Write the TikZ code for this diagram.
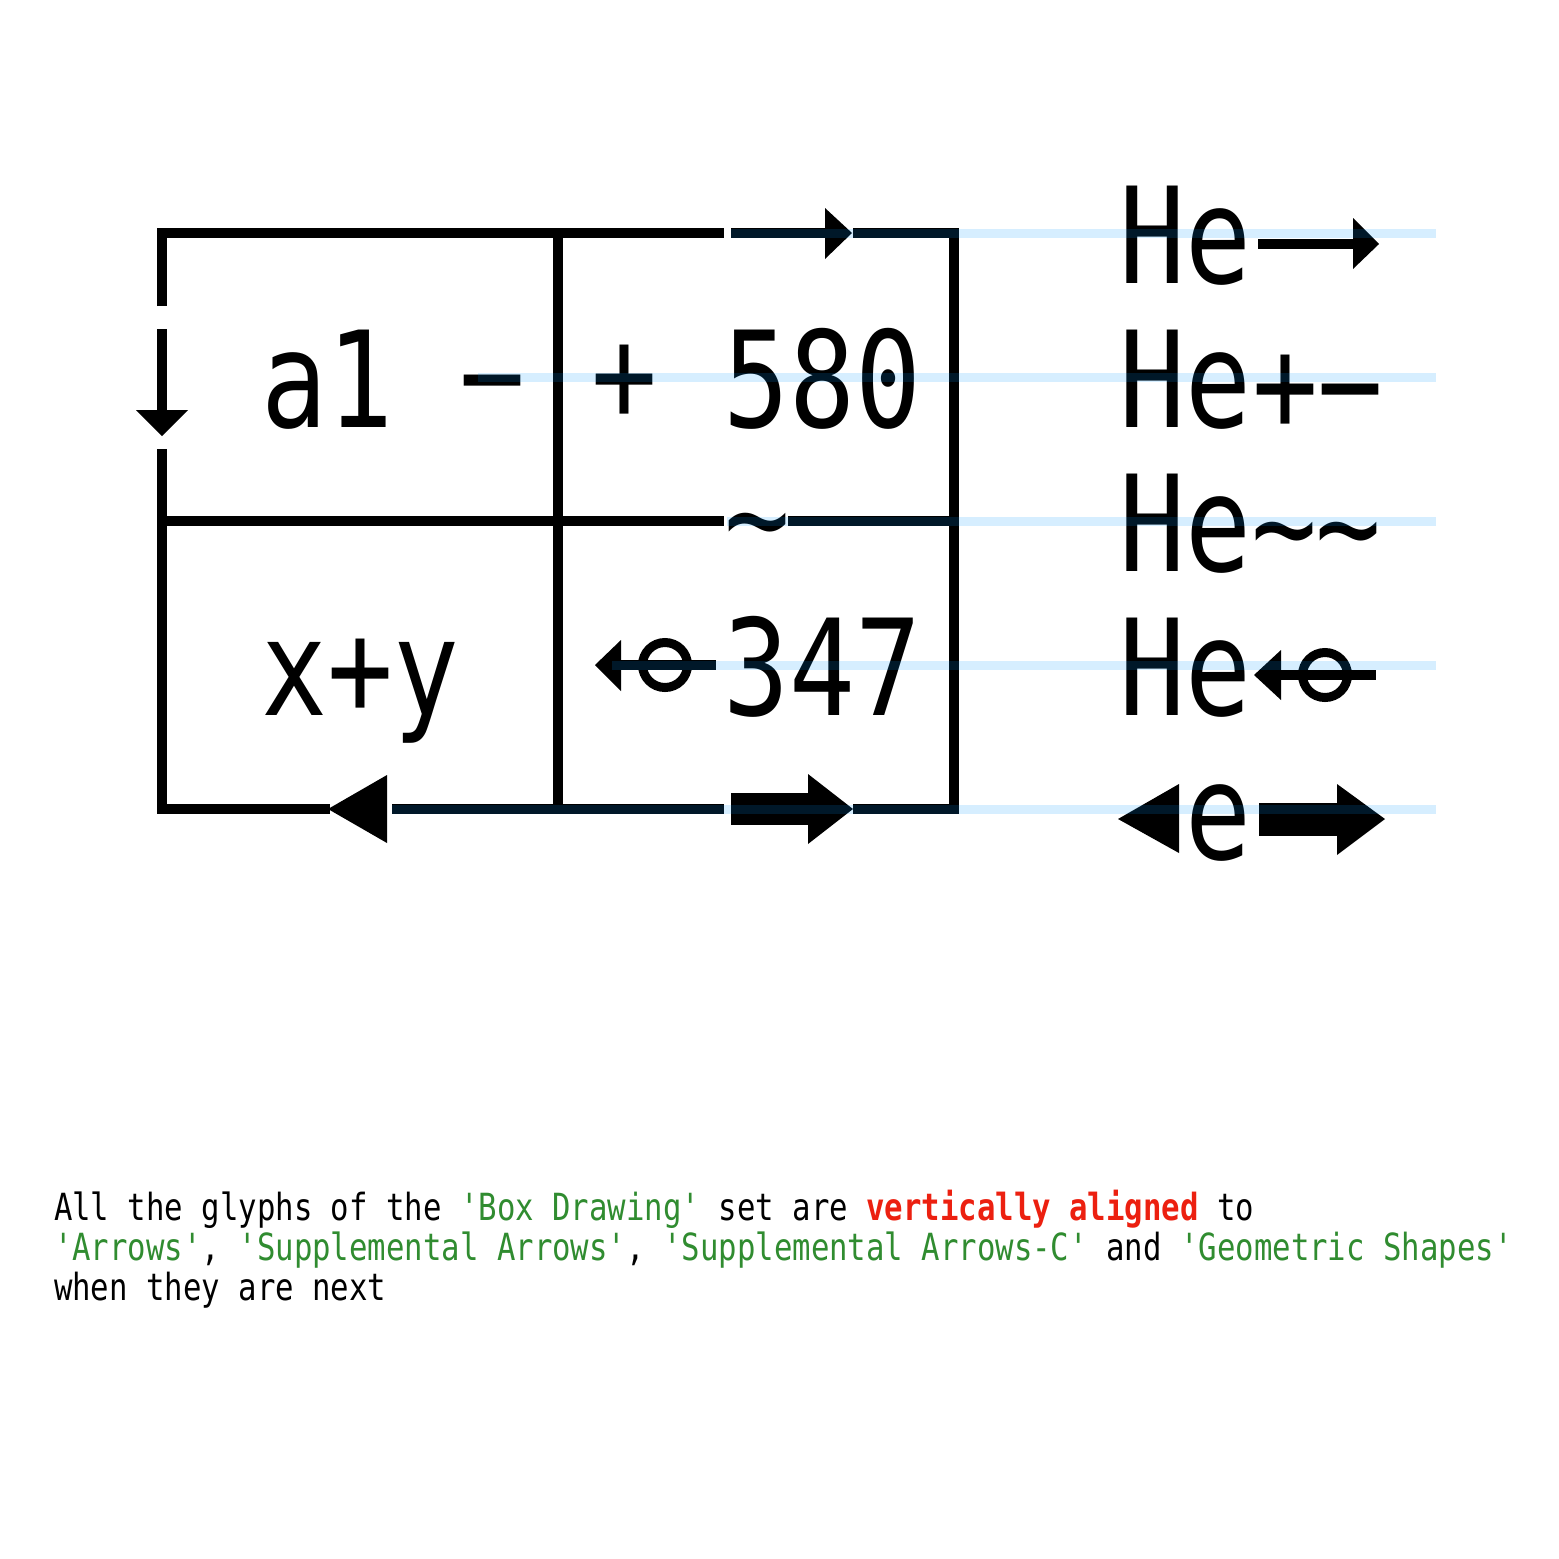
\documentclass[tikz,border=0pt]{standalone}
\usepackage{fontspec}
\newfontfamily\mono[FakeStretch=0.82,Ligatures=TeXOff]{DejaVu Sans Mono}
\definecolor{tgreen}{RGB}{48,140,48}
\definecolor{tred}{RGB}{236,32,16}
\definecolor{guideblue}{RGB}{0,150,255}
\begin{document}
\begin{tikzpicture}[x=1pt,y=-1pt,
  boxline/.style={line width=10pt, line join=miter},
  glyph/.style={inner sep=0pt, outer sep=0pt, font=\fontsize{133.7}{140}\selectfont\mono},
  sym/.style={glyph, anchor=base},
  guideline/.style={draw=guideblue, line width=9pt, opacity=0.16},
  note/.style={inner sep=0pt, outer sep=0pt, anchor=base west, font=\fontsize{37.4}{40}\selectfont\mono}
]
\useasboundingbox[fill=white] (0,0) rectangle (1559,1559);

% ---- box frame ----
\draw[boxline] (162,306) -- (162,233) -- (724,233);
\draw[boxline] (162,449) -- (162,809) -- (330,809);
\draw[boxline] (392,809) -- (724,809);
\draw[boxline] (853,233) -- (954,233) -- (954,809) -- (853,809);
\draw[boxline] (558,233) -- (558,809);
\draw[boxline] (162,521) -- (724,521);
\draw[boxline] (788,521) -- (954,521);

% down arrow on left side
\fill (157,329) rectangle (167,412);
\fill (136,410) -- (188,410) -- (162,436) -- cycle;
% top arrow
\fill (731,228) rectangle (827,238);
\fill (825,208) -- (852,233) -- (825,259) -- cycle;
% arrow with circle in box
\fill (621,640) -- (595,665) -- (621,691) -- cycle;
\fill (612,660) rectangle (716,670);
\draw[line width=9pt] (665,665) circle[radius=22.5pt];
% bottom left triangle
\fill (387,775) -- (328,809) -- (387,843) -- cycle;
% bottom heavy arrow
\fill (731,793) rectangle (810,825);
\fill (808,774) -- (853,809) -- (808,844) -- cycle;

% ---- texts in the box ----
\node[glyph, anchor=base west] (a1) at (261,427) {a1};
\node[sym] (minusA) at (492,422) {−};
\node[sym] (plusA) at (624,421) {+};
\node[glyph, anchor=base west] (n580) at (723,427) {580};
\node[sym] (tildeA) at (757,564) {∼};
\node[glyph, anchor=base west] (xy) at (261,715) {x+y};
\node[glyph, anchor=base west] (n347) at (723,715) {347};

% ---- right column ----
\node[glyph, anchor=base west] (he0) at (1119,283) {He};
\fill (1258,239) rectangle (1355,249);
\fill (1353,218) -- (1379,244) -- (1353,269) -- cycle;

\node[glyph, anchor=base west] (he1) at (1119,427) {He};
\node[sym] (plusB) at (1285,431) {+};
\node[sym] (minusB) at (1350,431) {−};

\node[glyph, anchor=base west] (he2) at (1119,571) {He};
\node[sym] (tildeB) at (1284,573) {∼};
\node[sym] (tildeC) at (1348,573) {∼};

\node[glyph, anchor=base west] (he3) at (1119,715) {He};
\fill (1281,650) -- (1254,675) -- (1281,700) -- cycle;
\fill (1276,670) rectangle (1376,680);
\draw[line width=9pt] (1325,675) circle[radius=22.5pt];

\fill (1179,784) -- (1118,819) -- (1179,853) -- cycle;
\node[glyph, anchor=base west] (e4) at (1185,859) {e};
\fill (1259,803) rectangle (1339,836);
\fill (1337,784) -- (1385,819) -- (1337,855) -- cycle;

% ---- guide lines ----
\draw[guideline] (731,233) -- (1436,233);
\draw[guideline] (478,377) -- (1436,377);
\draw[guideline] (727,521) -- (1436,521);
\draw[guideline] (612,665) -- (1436,665);
\draw[guideline] (392,809) -- (1436,809);

% ---- caption ----
\node[note] (l1) at (54,1220) {All the glyphs of the \textcolor{tgreen}{'Box Drawing'} set are \textcolor{tred}{\bfseries vertically aligned} to};
\node[note] (l2) at (54,1260) {\textcolor{tgreen}{'Arrows'}, \textcolor{tgreen}{'Supplemental Arrows'}, \textcolor{tgreen}{'Supplemental Arrows-C'} and \textcolor{tgreen}{'Geometric Shapes'}};
\node[note] (l3) at (54,1300) {when they are next};
\end{tikzpicture}
\end{document}
